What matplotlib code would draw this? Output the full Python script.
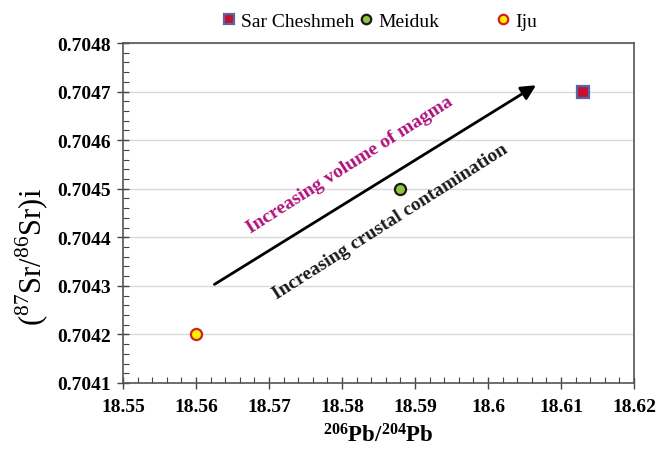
import numpy as np
import matplotlib.pyplot as plt
from matplotlib.ticker import AutoMinorLocator

plt.rcParams['font.family'] = ['Liberation Serif', 'DejaVu Serif']
plt.rcParams['mathtext.fontset'] = 'custom'
plt.rcParams['mathtext.rm'] = 'Liberation Serif'
plt.rcParams['mathtext.bf'] = 'Liberation Serif:bold'

# data
names = ['Sar Cheshmeh', 'Meiduk', 'Iju']
pb = [18.613, 18.588, 18.56]
sr = [0.7047, 0.7045, 0.7042]
markers = ['s', 'o', 'o']
faces = ['#C8102E', '#8DC63F', '#FFF200']
edges = ['#5468A8', '#1a1a1a', '#D42020']
sizes = [9, 8, 8]
legend_x = [228, 365, 502]  # legend marker centres, pixels

arrow_start = (18.5622, 0.70430)
arrow_end = (18.6069, 0.704716)

fig = plt.figure(figsize=(6.7, 4.52), dpi=100)
ax = fig.add_axes([123/670, 1-384/452, (634-123)/670, (384-44)/452])

handles = []
for n, x, y, m, fc, ec, s in zip(names, pb, sr, markers, faces, edges, sizes):
    h, = ax.plot(x, y, linestyle='none', marker=m, markersize=s, markerfacecolor=fc,
                 markeredgecolor=ec, markeredgewidth=1.6, label=n, zorder=5)
    handles.append(h)

ax.set_xlim(18.55, 18.62)
ax.set_ylim(0.7041, 0.7048)
ax.xaxis.set_minor_locator(AutoMinorLocator(5))
ax.yaxis.set_minor_locator(AutoMinorLocator(5))
ax.set_xticks(np.arange(18.55, 18.621, 0.01))
ax.set_xticklabels(['18.55', '18.56', '18.57', '18.58', '18.59', '18.6', '18.61', '18.62'])
ax.set_yticks(np.arange(0.7041, 0.70481, 0.0001))
ax.set_yticklabels(['%.4f' % v for v in np.arange(0.7041, 0.70481, 0.0001)])
ax.tick_params(which='major', direction='inout', length=8, width=1, labelsize=14, color='#444444')
ax.tick_params(which='minor', direction='in', length=4, width=0.8, color='#444444')
for lab in ax.get_xticklabels() + ax.get_yticklabels():
    lab.set_fontweight('bold')
ax.tick_params(axis='x', pad=7)
ax.tick_params(axis='y', pad=5)
ax.grid(axis='y', which='major', color='#d9d9d9', linewidth=1)
ax.set_axisbelow(True)
for sp in ax.spines.values():
    sp.set_color('#555555')
    sp.set_linewidth(1.2)

ax.set_xlabel(r'$\mathbf{^{206}Pb/^{204}Pb}$', fontsize=16.5, labelpad=6)
ax.set_ylabel(r'$(^{87}\mathrm{Sr}/^{86}\mathrm{Sr})\mathrm{i}$', fontsize=22)
ax.yaxis.set_label_coords(-0.14, 0.374)

ax.annotate('', xy=arrow_end, xytext=arrow_start,
            arrowprops=dict(arrowstyle='-|>', color='black', lw=2, mutation_scale=22))
ax.text(18.5811, 0.704551, 'Increasing volume of magma', color='#B0127C', fontsize=14,
        fontweight='bold', rotation=32.5, ha='center', va='center')
ax.text(18.5866, 0.704434, 'Increasing crustal contamination', color='#1a1a1a', fontsize=14,
        fontweight='bold', rotation=32.5, ha='center', va='center')

# one small legend per series, placed like the original
for h, n, lx in zip(handles, names, legend_x):
    fig.legend([h], [n], loc='center left', bbox_to_anchor=((lx - 7.2) / 670, 1 - 22 / 452),
               frameon=False, borderpad=0, borderaxespad=0, handlelength=0.8,
               handletextpad=0.25, markerscale=0.85,
               prop={'family': ['Liberation Serif'], 'size': 14})

fig.savefig('out.png', dpi=100, facecolor='white')
